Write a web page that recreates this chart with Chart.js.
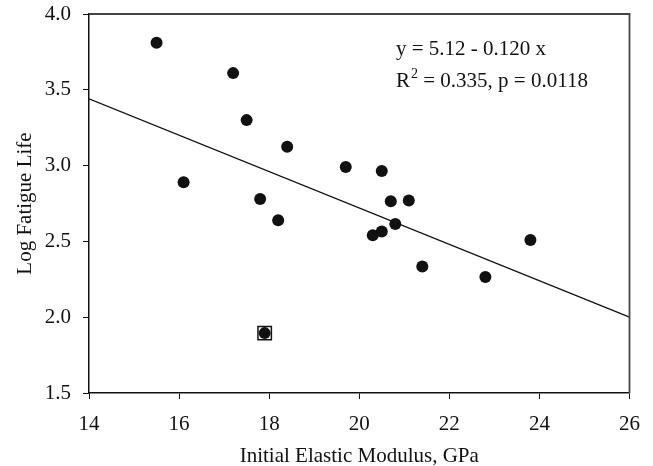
<!DOCTYPE html>
<html>
<head>
<meta charset="utf-8">
<script src="https://cdn.jsdelivr.net/npm/chart.js@4.4.1/dist/chart.umd.min.js"></script>
<style>
  html, body { margin: 0; padding: 0; background: #fff; }
  #wrap { width: 653px; height: 466px; }
</style>
</head>
<body>
<div id="wrap"><canvas id="fatigueChart"></canvas></div>
<script>
/* modulus vs fatigue life scatter */

const modulus = [15.5, 17.2, 17.5, 18.4, 16.1, 17.8, 18.2, 19.7, 20.5, 20.7, 21.1, 20.8, 20.3, 20.5, 23.8, 21.4, 22.8];
const logLife = [3.81, 3.61, 3.30, 3.125, 2.89, 2.78, 2.64, 2.99, 2.965, 2.765, 2.77, 2.615, 2.54, 2.565, 2.51, 2.335, 2.265];

// flagged specimen, drawn with a box around it
const outlierX = [17.9];
const outlierY = [1.895];

// fit: y = 5.12 - 0.120 x
const intercept = 5.12;
const slope = -0.120;
const fitRange = [14, 26];

const xTicks = [14, 16, 18, 20, 22, 24, 26];
const yTicks = [1.5, 2.0, 2.5, 3.0, 3.5, 4.0];

const serif = "'Liberation Serif', 'Times New Roman', serif";
const ink = '#111';

const points = modulus.map((m, i) => ({ x: m, y: logLife[i] }));
const flagged = outlierX.map((m, i) => ({ x: m, y: outlierY[i] }));
const fitLine = fitRange.map(m => ({ x: m, y: intercept + slope * m }));

// frame + regression text
const extras = {
  id: 'extras',
  afterDraw(chart) {
    const { ctx, chartArea: a } = chart;
    ctx.save();
    ctx.strokeStyle = '#444';
    ctx.lineWidth = 1.8;
    ctx.beginPath();
    ctx.moveTo(a.left, a.top);
    ctx.lineTo(a.right, a.top);
    ctx.lineTo(a.right, a.bottom);
    ctx.stroke();

    ctx.fillStyle = ink;
    ctx.textBaseline = 'alphabetic';
    ctx.font = '21px ' + serif;
    const x0 = 396;
    ctx.fillText('y = 5.12 - 0.120 x', x0, 55);
    ctx.fillText('R', x0, 87);
    let w = ctx.measureText('R').width;
    ctx.font = '14px ' + serif;
    ctx.fillText('2', x0 + w + 1, 78);
    w += ctx.measureText('2').width + 1;
    ctx.font = '21px ' + serif;
    ctx.fillText(' = 0.335, p = 0.0118', x0 + w, 87);
    ctx.restore();
  }
};

new Chart(document.getElementById('fatigueChart'), {
  type: 'scatter',
  data: {
    datasets: [
      {
        type: 'line',
        data: fitLine,
        borderColor: ink,
        borderWidth: 1.3,
        pointRadius: 0,
        fill: false
      },
      {
        data: points,
        backgroundColor: ink,
        borderColor: ink,
        pointRadius: 6,
        pointBorderWidth: 0
      },
      {
        data: flagged,
        backgroundColor: ink,
        borderColor: ink,
        pointRadius: 6,
        pointBorderWidth: 0
      },
      {
        data: flagged,
        pointStyle: 'rect',
        backgroundColor: 'rgba(0,0,0,0)',
        borderColor: ink,
        pointRadius: 9.5,
        pointBorderWidth: 1.5
      }
    ]
  },
  options: {
    responsive: true,
    maintainAspectRatio: false,
    animation: false,
    layout: { padding: { top: 14, right: 23, left: 0, bottom: 0 } },
    plugins: {
      legend: { display: false },
      tooltip: { enabled: false }
    },
    scales: {
      x: {
        type: 'linear',
        min: 14,
        max: 26,
        afterBuildTicks: s => { s.ticks = xTicks.map(v => ({ value: v })); },
        afterFit: s => { s.height = 73; },
        grid: { drawOnChartArea: false, tickLength: 6, color: ink, tickColor: ink },
        border: { color: ink, width: 1.5 },
        ticks: { color: ink, padding: 13, font: { family: serif, size: 21 } },
        title: {
          display: true,
          text: 'Initial Elastic Modulus, GPa',
          color: ink,
          font: { family: serif, size: 21, lineHeight: 1 },
          padding: { top: 0, bottom: -1 }
        }
      },
      y: {
        type: 'linear',
        min: 1.5,
        max: 4.0,
        afterBuildTicks: s => { s.ticks = yTicks.map(v => ({ value: v })); },
        afterFit: s => { s.width = 89; s.paddingTop = 0; s.paddingBottom = 0; },
        grid: { drawOnChartArea: false, tickLength: 6, color: ink, tickColor: ink },
        border: { color: ink, width: 1.5 },
        ticks: {
          color: ink,
          padding: 12,
          font: { family: serif, size: 21 },
          callback: v => v.toFixed(1)
        },
        title: {
          display: true,
          text: 'Log Fatigue Life',
          color: ink,
          font: { family: serif, size: 21, lineHeight: 1.2 },
          padding: { top: 13, bottom: 0 }
        }
      }
    }
  },
  plugins: [extras]
});
</script>
</body>
</html>
